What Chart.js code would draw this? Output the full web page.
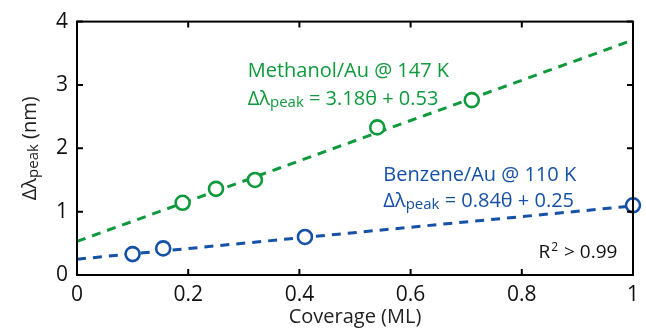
<!DOCTYPE html>
<html>
<head>
<meta charset="utf-8">
<script src="https://cdn.jsdelivr.net/npm/chart.js@4.4.0/dist/chart.umd.min.js"></script>
<style>
  html, body { margin: 0; padding: 0; background: #fff; }
  #wrap { width: 646px; height: 329px; }
</style>
</head>
<body>
<div id="wrap"><canvas id="grafico"></canvas></div>
<script>
// Datos
var coberturaMetanol = [0.19, 0.25, 0.32, 0.54, 0.71];
var picoMetanol = [1.14, 1.36, 1.50, 2.33, 2.76];
var coberturaBenceno = [0.10, 0.155, 0.41, 1.0];
var picoBenceno = [0.33, 0.42, 0.60, 1.10];
// Rectas de ajuste (extremos en 0 y 1 ML)
var ajusteX = [0, 1];
var ajusteMetanol = [0.53, 3.71];
var ajusteBenceno = [0.25, 1.09];
var ticksX = [0, 0.2, 0.4, 0.6, 0.8, 1];
var ticksY = [0, 1, 2, 3, 4];

var verde = '#0e9a3c';
var azul = '#1651a8';
var fuente = "'Open Sans', sans-serif";

function puntos(xs, ys) {
    return xs.map(function(x, i) { return { x: x, y: ys[i] }; });
}

// Texto con subíndice: partes [texto, esSub]
function textoCompuesto(ctx, partes, x, y, tam) {
    var cx = x;
    partes.forEach(function(p) {
        if (p[1]) {
            ctx.font = Math.round(tam * 0.75) + 'px ' + fuente;
            ctx.fillText(p[0], cx, y + tam * 0.1);
        } else {
            ctx.font = tam + 'px ' + fuente;
            ctx.fillText(p[0], cx, y);
        }
        cx += ctx.measureText(p[0]).width;
    });
    return cx - x;
}

var marcoYAnotaciones = {
    id: 'marcoYAnotaciones',
    afterDatasetsDraw: function(chart) {
        var ctx = chart.ctx;
        var a = chart.chartArea;
        var sx = chart.scales.x, sy = chart.scales.y;
        ctx.save();
        // marco
        ctx.strokeStyle = '#000';
        ctx.lineWidth = 2;
        ctx.strokeRect(a.left, a.top, a.right - a.left, a.bottom - a.top);
        // ticks hacia dentro
        var largo = 6;
        ctx.beginPath();
        ticksX.forEach(function(v) {
            var px = sx.getPixelForValue(v);
            ctx.moveTo(px, a.bottom); ctx.lineTo(px, a.bottom - largo);
            ctx.moveTo(px, a.top); ctx.lineTo(px, a.top + largo);
        });
        ticksY.forEach(function(v) {
            var py = sy.getPixelForValue(v);
            ctx.moveTo(a.left, py); ctx.lineTo(a.left + largo, py);
            ctx.moveTo(a.right, py); ctx.lineTo(a.right - largo, py);
        });
        ctx.stroke();

        ctx.textBaseline = 'alphabetic';
        ctx.textAlign = 'left';
        // anotaciones
        ctx.fillStyle = verde;
        ctx.font = '20px ' + fuente;
        ctx.fillText('Methanol/Au @ 147 K', sx.getPixelForValue(0.307), sy.getPixelForValue(3.12));
        textoCompuesto(ctx, [['\u0394\u03bb', false], ['peak', true], [' = 3.18\u03b8 + 0.53', false]],
            sx.getPixelForValue(0.307), sy.getPixelForValue(2.68), 20);

        ctx.fillStyle = azul;
        ctx.font = '20px ' + fuente;
        ctx.fillText('Benzene/Au @ 110 K', sx.getPixelForValue(0.551), sy.getPixelForValue(1.48));
        textoCompuesto(ctx, [['\u0394\u03bb', false], ['peak', true], [' = 0.84\u03b8 + 0.25', false]],
            sx.getPixelForValue(0.551), sy.getPixelForValue(1.07), 20);

        // R^2 > 0.99
        ctx.fillStyle = '#111';
        var rx = sx.getPixelForValue(0.83), ry = sy.getPixelForValue(0.27);
        ctx.font = '19px ' + fuente;
        ctx.fillText('R', rx, ry);
        var rw = ctx.measureText('R').width;
        ctx.font = '12px ' + fuente;
        ctx.fillText('2', rx + rw + 1, ry - 7);
        var sw = ctx.measureText('2').width;
        ctx.font = '19px ' + fuente;
        ctx.fillText(' > 0.99', rx + rw + sw + 2, ry);

        // título del eje Y con subíndice
        ctx.save();
        ctx.translate(29, (a.top + a.bottom) / 2);
        ctx.rotate(-Math.PI / 2);
        ctx.fillStyle = '#222';
        var partes = [['\u0394\u03bb', false], ['peak', true], [' (nm)', false]];
        var ancho = 0;
        partes.forEach(function(p) {
            ctx.font = (p[1] ? Math.round(20 * 0.75) : 20) + 'px ' + fuente;
            ancho += ctx.measureText(p[0]).width;
        });
        textoCompuesto(ctx, partes, -ancho / 2, 7, 20);
        ctx.restore();
        ctx.restore();
    }
};

var ctxGrafico = document.getElementById('grafico').getContext('2d');
var grafico = new Chart(ctxGrafico, {
    type: 'scatter',
    data: {
        datasets: [
            {
                label: 'Ajuste metanol',
                data: puntos(ajusteX, ajusteMetanol),
                showLine: true,
                borderColor: verde,
                borderWidth: 3,
                borderDash: [9, 7],
                pointRadius: 0,
                order: 3
            },
            {
                label: 'Ajuste benceno',
                data: puntos(ajusteX, ajusteBenceno),
                showLine: true,
                borderColor: azul,
                borderWidth: 3,
                borderDash: [9, 7],
                pointRadius: 0,
                order: 3
            },
            {
                label: 'Methanol/Au @ 147 K',
                data: puntos(coberturaMetanol, picoMetanol),
                borderColor: verde,
                backgroundColor: '#fff',
                pointRadius: 7,
                pointBorderWidth: 2.6,
                clip: false,
                order: 1
            },
            {
                label: 'Benzene/Au @ 110 K',
                data: puntos(coberturaBenceno, picoBenceno),
                borderColor: azul,
                backgroundColor: '#fff',
                pointRadius: 7,
                pointBorderWidth: 2.6,
                clip: false,
                order: 1
            }
        ]
    },
    options: {
        responsive: true,
        maintainAspectRatio: false,
        animation: false,
        layout: { padding: { top: 21, right: 5, left: 0, bottom: 0 } },
        plugins: {
            legend: { display: false },
            tooltip: { enabled: false }
        },
        scales: {
            x: {
                type: 'linear',
                min: 0,
                max: 1,
                afterBuildTicks: function(s) { s.ticks = ticksX.map(function(v) { return { value: v }; }); },
                afterFit: function(s) { s.height = 54; },
                grid: { display: false, drawTicks: false },
                border: { display: false },
                ticks: {
                    color: '#111',
                    padding: 7,
                    font: { family: fuente, size: 21 },
                    callback: function(v) { return String(v); }
                },
                title: {
                    display: true,
                    text: 'Coverage (ML)',
                    color: '#222',
                    font: { family: fuente, size: 20 },
                    padding: { top: 0, bottom: 0 }
                }
            },
            y: {
                type: 'linear',
                min: 0,
                max: 4,
                afterBuildTicks: function(s) { s.ticks = ticksY.map(function(v) { return { value: v }; }); },
                afterFit: function(s) { s.width = 77; },
                grid: { display: false, drawTicks: false },
                border: { display: false },
                ticks: {
                    color: '#111',
                    padding: 9,
                    font: { family: fuente, size: 21 }
                }
            }
        }
    },
    plugins: [marcoYAnotaciones]
});
</script>
</body>
</html>
